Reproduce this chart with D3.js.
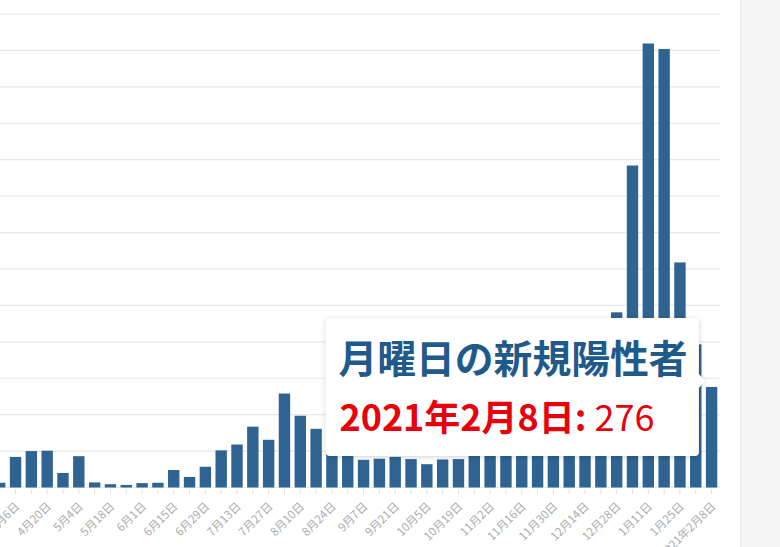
<!DOCTYPE html>
<html>
<head>
<meta charset="utf-8">
<script src="https://cdnjs.cloudflare.com/ajax/libs/d3/7.8.5/d3.min.js"></script>
<style>
  html, body { margin: 0; padding: 0; background: #fff; }
  svg { display: block; font-family: "Noto Sans CJK JP", "Noto Sans", sans-serif; }
</style>
</head>
<body>
<div id="chart"></div>
<script>
// weekly mondays shown on the chart
const weeks = [
  '2020-03-30','2020-04-06','2020-04-13','2020-04-20','2020-04-27',
  '2020-05-04','2020-05-11','2020-05-18','2020-05-25',
  '2020-06-01','2020-06-08','2020-06-15','2020-06-22','2020-06-29',
  '2020-07-06','2020-07-13','2020-07-20','2020-07-27',
  '2020-08-03','2020-08-10','2020-08-17','2020-08-24','2020-08-31',
  '2020-09-07','2020-09-14','2020-09-21','2020-09-28',
  '2020-10-05','2020-10-12','2020-10-19','2020-10-26',
  '2020-11-02','2020-11-09','2020-11-16','2020-11-23','2020-11-30',
  '2020-12-07','2020-12-14','2020-12-21','2020-12-28',
  '2021-01-04','2021-01-11','2021-01-18','2021-01-25',
  '2021-02-01','2021-02-08'
];

// new positives on each monday
const cases = [
  13, 84, 100, 101, 40,
  86, 14, 9, 7,
  12, 13, 48, 29, 57,
  102, 118, 167, 131,
  258, 197, 161, 95, 100,
  76, 79, 84, 78,
  64, 77, 78, 102,
  87, 157, 180, 314, 311,
  299, 305, 392, 481,
  884, 1219, 1204, 618,
  393, 276
];

// labelled ticks (every second week)
const tickWeeks = [
  '2020-04-06','2020-04-20','2020-05-04','2020-05-18','2020-06-01','2020-06-15','2020-06-29',
  '2020-07-13','2020-07-27','2020-08-10','2020-08-24','2020-09-07','2020-09-21','2020-10-05',
  '2020-10-19','2020-11-02','2020-11-16','2020-11-30','2020-12-14','2020-12-28',
  '2021-01-11','2021-01-25','2021-02-08'
];
const tickLabels = [
  '4月6日','4月20日','5月4日','5月18日','6月1日','6月15日','6月29日',
  '7月13日','7月27日','8月10日','8月24日','9月7日','9月21日','10月5日',
  '10月19日','11月2日','11月16日','11月30日','12月14日','12月28日',
  '1月11日','1月25日','2021年2月8日'
];

const yTicks = d3.range(0, 1301, 100);

const tipTitle = '月曜日の新規陽性者';
const tipWeek = '2021-02-08';
const tipDate = '2021年2月8日:';

const W = 780, H = 547;
const barColor = '#2e6392';

const svg = d3.select('#chart').append('svg')
  .attr('width', W).attr('height', H);

// shadow for the tooltip
const defs = svg.append('defs');
const f = defs.append('filter').attr('id', 'shadow')
  .attr('x', '-10%').attr('y', '-20%').attr('width', '120%').attr('height', '140%');
f.append('feDropShadow').attr('dx', 0).attr('dy', 1).attr('stdDeviation', 2.5)
  .attr('flood-color', '#000').attr('flood-opacity', 0.18);

const x = d3.scaleBand()
  .domain(weeks)
  .range([-8.2, 719.5])
  .paddingInner(0.28)
  .paddingOuter(0.14);

const y = d3.scaleLinear()
  .domain([0, 1300])
  .range([487.5, 14]);

// grid
svg.append('g')
  .selectAll('line')
  .data(yTicks)
  .join('line')
  .attr('x1', 0)
  .attr('x2', 720)
  .attr('y1', d => y(d))
  .attr('y2', d => y(d))
  .style('stroke', '#e8e8e8')
  .style('stroke-width', 1.2);

// small ticks under every bar
svg.append('g')
  .selectAll('line')
  .data(weeks)
  .join('line')
  .attr('x1', d => x(d) + x.bandwidth() / 2)
  .attr('x2', d => x(d) + x.bandwidth() / 2)
  .attr('y1', y(0) + 1.5)
  .attr('y2', y(0) + 6.5)
  .style('stroke', '#eadcdc')
  .style('stroke-width', 1);

// bars
svg.append('g')
  .selectAll('rect')
  .data(weeks)
  .join('rect')
  .attr('x', d => x(d))
  .attr('width', x.bandwidth())
  .attr('y', (d, i) => y(cases[i]))
  .attr('height', (d, i) => y(0) - y(cases[i]))
  .style('fill', barColor);

// axis labels
const xAxis = d3.axisBottom(x)
  .tickValues(tickWeeks)
  .tickSize(0)
  .tickFormat(d => tickLabels[tickWeeks.indexOf(d)]);

const gx = svg.append('g')
  .attr('transform', `translate(0,${y(0)})`)
  .call(xAxis);
gx.select('.domain').remove();
gx.selectAll('text')
  .attr('x', 0).attr('y', 0).attr('dy', 0)
  .attr('text-anchor', 'end')
  .attr('transform', 'translate(4.7,19.5) rotate(-45)')
  .style('font-family', '"Noto Sans CJK JP", sans-serif')
  .style('font-size', '11.5px')
  .style('fill', '#acacac');

// right side panel
svg.append('rect')
  .attr('x', 741).attr('y', 0).attr('width', W - 741).attr('height', H)
  .style('fill', '#f5f5f5');
svg.append('rect')
  .attr('x', 740).attr('y', 0).attr('width', 2).attr('height', H)
  .style('fill', '#ececec');

// tooltip anchored on the last bar
const ti = weeks.indexOf(tipWeek);
const caretX = x(tipWeek) - 1;
const caretY = y(cases[ti]) - 6;
const tw = 373, th = 138;
const tx = caretX - 6 - tw;
const ty = caretY - 63;

const tip = svg.append('g').attr('transform', `translate(${tx},${ty})`);
tip.append('path')
  .attr('d', `M4,0 H${tw - 4} Q${tw},0 ${tw},4 V${caretY - ty - 7} L${tw + 6},${caretY - ty} L${tw},${caretY - ty + 7} V${th - 4} Q${tw},${th} ${tw - 4},${th} H4 Q0,${th} 0,${th - 4} V4 Q0,0 4,0 Z`)
  .style('fill', '#fff')
  .attr('filter', 'url(#shadow)');

tip.append('text')
  .attr('x', 12.5)
  .attr('y', 55)
  .style('font-size', '38.8px')
  .style('font-weight', 'bold')
  .style('fill', '#1f5a8b')
  .text(tipTitle);

const line2 = tip.append('text')
  .attr('x', 13.5)
  .attr('y', 113)
  .style('font-size', '36px')
  .style('fill', '#e8000b');
line2.append('tspan').style('font-weight', 'bold').text(tipDate);
line2.append('tspan').text(' ' + cases[ti]);
</script>
</body>
</html>
